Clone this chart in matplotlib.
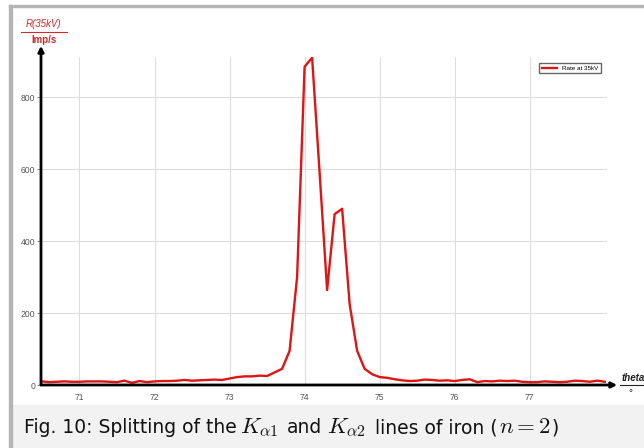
import numpy as np
import matplotlib.pyplot as plt
from matplotlib.patches import Rectangle
from matplotlib.lines import Line2D

plt.rcParams['mathtext.fontset'] = 'cm'

# angle theta in degrees, 0.1 deg steps
theta = np.round(np.arange(70.5, 78.01, 0.1), 1)
rate = [10, 8, 9, 10, 9, 9, 10, 10, 10, 9,
        8, 12, 6, 11, 8, 10, 11, 11, 12, 14,
        12, 13, 14, 15, 14, 18, 22, 24, 24, 26,
        25, 35, 45, 95, 300, 885, 910, 590, 264, 475,
        490, 225, 95, 45, 30, 22, 20, 16, 13, 11,
        12, 15, 14, 12, 13, 11, 14, 16, 8, 11,
        10, 12, 11, 12, 9, 8, 8, 10, 9, 8,
        9, 12, 11, 9, 12, 9]
x_ticks = [71, 72, 73, 74, 75, 76, 77]
y_ticks = [0, 200, 400, 600, 800]

W, H = 644, 448
fig = plt.figure(figsize=(W / 100, H / 100), dpi=100)

# frame and caption strip
fig.add_artist(Rectangle((12 / W, 0), 1, 43 / H, transform=fig.transFigure,
                         color='#f2f2f2', zorder=0))
fig.add_artist(Rectangle((9 / W, 0), 3 / W, 1 - 5 / H, transform=fig.transFigure,
                         color='#b5b5b5', zorder=1))
fig.add_artist(Rectangle((9 / W, 1 - 7 / H), 1, 2 / H, transform=fig.transFigure,
                         color='#b5b5b5', zorder=1))

ax = fig.add_axes([41 / W, 63 / H, 566 / W, 328 / H])
ax.plot(theta, rate, color='#dd1515', lw=1.7, label='Rate at 35kV', zorder=3)

ax.set_xlim(70.487, 78.03)
ax.set_ylim(0, 912)
ax.set_xticks(x_ticks)
ax.set_yticks(y_ticks)
ax.tick_params(axis='x', length=0, pad=6, labelsize=6.2, labelcolor='#555555')
ax.tick_params(axis='y', length=3, width=0.6, pad=1, labelsize=6.2,
               labelcolor='#555555', color='#777777')
for lab in ax.get_xticklabels() + ax.get_yticklabels():
    lab.set_family('Liberation Sans')
ax.grid(True, color='#dddddd', lw=0.8)
ax.set_axisbelow(True)
for s in ax.spines.values():
    s.set_visible(False)

# axes with arrow heads
ax.annotate('', xy=(0, 1.034), xytext=(0, 0), xycoords='axes fraction',
            arrowprops=dict(arrowstyle='-|>', lw=2, color='black',
                            mutation_scale=8, shrinkA=0, shrinkB=0))
ax.annotate('', xy=(1.018, 0), xytext=(0, 0), xycoords='axes fraction',
            arrowprops=dict(arrowstyle='-|>', lw=2, color='black',
                            mutation_scale=8, shrinkA=0, shrinkB=0))

ax.legend(loc='upper right', bbox_to_anchor=(601 / W, 1 - 63 / H),
          bbox_transform=fig.transFigure, borderaxespad=0,
          prop={'family': 'Liberation Sans', 'size': 4.5},
          frameon=True, fancybox=False, edgecolor='#666666',
          handlelength=2.5, borderpad=0.4, framealpha=1)

# axis titles
red = '#d42a2a'
fig.text(44 / W, 1 - 24 / H, 'R(35kV)', color=red, fontsize=7, style='italic',
         ha='center', va='center', family='Liberation Sans')
fig.add_artist(Line2D([21 / W, 67 / W], [1 - 32 / H, 1 - 32 / H], color=red, lw=0.8))
fig.text(44 / W, 1 - 40 / H, 'Imp/s', color=red, fontsize=7, weight='bold',
         ha='center', va='center', family='Liberation Sans')

fig.text(622 / W, 1 - 378 / H, 'theta', color='#222222', fontsize=7, style='italic',
         weight='bold', ha='left', va='center', family='Liberation Sans')
fig.add_artist(Line2D([620 / W, 1], [1 - 385 / H, 1 - 385 / H], color='#222222', lw=0.8))
fig.text(630 / W, 1 - 393 / H, '°', color='#222222', fontsize=7,
         ha='center', va='center', family='Liberation Sans')

# caption: plain text pieces and larger math pieces laid out one after another
caption = [('Fig. 10: Splitting of the', 13.5, 0),
           (r'$K_{\alpha1}$', 16.5, 3),
           ('and', 13.5, 9),
           (r'$K_{\alpha2}$', 16.5, 5),
           ('lines of iron (', 13.5, 9),
           (r'$n=2$', 16.5, 1),
           (')', 13.5, 1)]
renderer = fig.canvas.get_renderer()
x = 24
for txt, size, gap in caption:
    x += gap
    t = fig.text(x / W, 1 - 433 / H, txt, fontsize=size, ha='left',
                 va='baseline', color='#111111')
    x = t.get_window_extent(renderer).x1

fig.savefig('out.png', dpi=100)
